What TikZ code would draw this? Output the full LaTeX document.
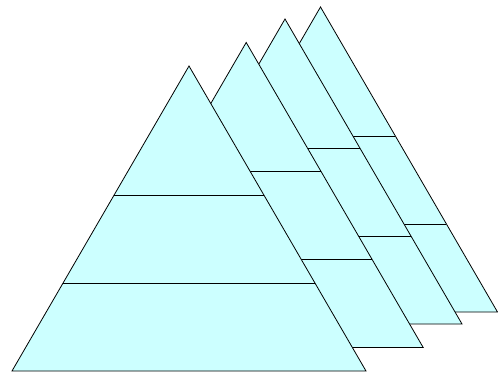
\documentclass[tikz,border=0pt]{standalone}
\definecolor{tri}{HTML}{CCFFFF}
\tikzset{layer/.style={fill=tri,draw=black,line width=0.8pt,line join=miter}}
\begin{document}
\begin{tikzpicture}[x=1pt,y=-1pt]
\useasboundingbox (0,0) rectangle (498,372);
\foreach \dx/\dy in {131.5/-59, 96/-47, 57.2/-23.5, 0/0}{
  \begin{scope}[shift={(\dx,\dy)}]
    \draw[layer] (189,66) -- (366,371) -- (12,371) -- cycle;
    \draw[line width=0.8pt] (114.1,195) -- (263.9,195);
    \draw[line width=0.8pt] (63.1,283) -- (314.9,283);
  \end{scope}
}
\end{tikzpicture}
\end{document}
